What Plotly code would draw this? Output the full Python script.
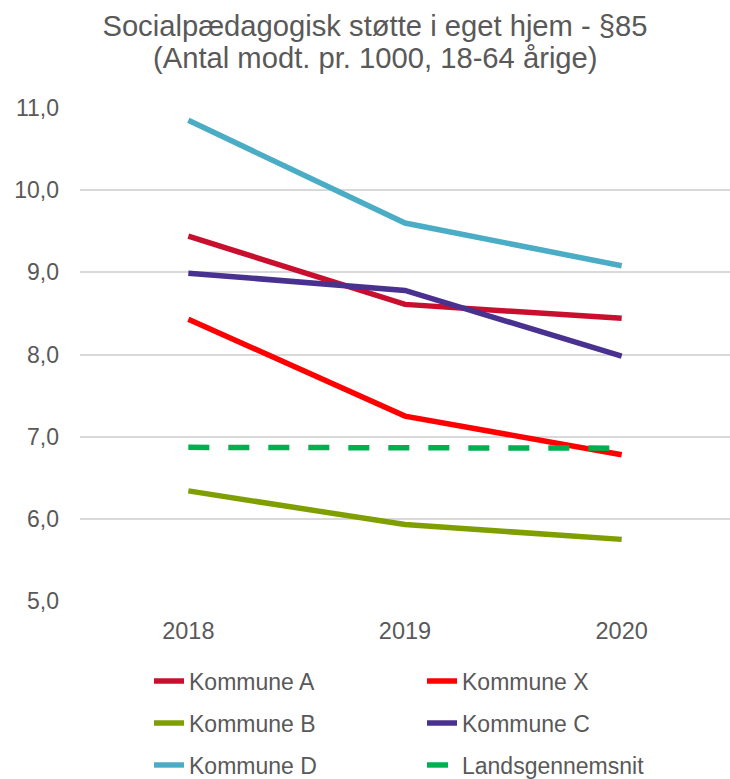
import plotly.graph_objects as go

aar = ["2018", "2019", "2020"]

kommune_a = [9.44, 8.61, 8.44]
kommune_x = [8.43, 7.25, 6.78]
kommune_b = [6.34, 5.93, 5.75]
kommune_c = [8.99, 8.78, 7.98]
kommune_d = [10.85, 9.60, 9.08]
landsgennemsnit = [6.87, 6.86, 6.86]

# (navn, værdier, farve, streg, legende-række)
serier = [
    ("Kommune A", kommune_a, "#C8102E", "solid", "legend"),
    ("Kommune X", kommune_x, "#FF0000", "solid", "legend"),
    ("Kommune B", kommune_b, "#7F9F00", "solid", "legend2"),
    ("Kommune C", kommune_c, "#48318F", "solid", "legend2"),
    ("Kommune D", kommune_d, "#4BACC6", "solid", "legend3"),
    ("Landsgennemsnit", landsgennemsnit, "#00B050", "21px,19px", "legend3"),
]

TXT = "#595959"
FONT = "Liberation Sans, Arial, sans-serif"
W, H = 730, 779

fig = go.Figure()
for navn, vaerdier, farve, streg, lg in serier:
    fig.add_trace(go.Scatter(
        x=aar, y=vaerdier, name=navn, mode="lines", legend=lg,
        line=dict(color=farve, width=5.5, dash=streg),
    ))


def legende(y_px):
    return dict(
        orientation="h", xref="container", yref="container",
        x=149 / W, xanchor="left", y=1 - y_px / H, yanchor="middle",
        entrywidth=228, entrywidthmode="pixels",
        font=dict(family=FONT, size=23, color=TXT),
        bgcolor="rgba(0,0,0,0)",
    )


fig.update_layout(
    width=W, height=H,
    paper_bgcolor="white", plot_bgcolor="white",
    font=dict(family=FONT, color=TXT, size=23),
    separators=",.",
    title=dict(
        text="Socialpædagogisk støtte i eget hjem - §85",
        font=dict(family=FONT, size=29.2, color=TXT),
        xref="container", yref="container",
        x=375 / W, xanchor="center", y=1 - 26 / H, yanchor="middle",
    ),
    annotations=[dict(
        text="(Antal modt. pr. 1000, 18-64 årige)",
        xref="paper", yref="paper", x=(375 - 80) / 650, y=1 + (108 - 58) / 493,
        xanchor="center", yanchor="middle", showarrow=False,
        font=dict(family=FONT, size=29.2, color=TXT),
    )],
    margin=dict(l=80, r=0, t=108, b=178),
    showlegend=True,
    legend=legende(681),
    legend2=legende(723),
    legend3=legende(765),
    xaxis=dict(
        type="category", range=[-0.5, 2.5],
        showgrid=False, showline=False, zeroline=False,
        ticks="", ticklabelstandoff=13, automargin=False,
        tickfont=dict(family=FONT, size=23.5, color=TXT),
    ),
    yaxis=dict(
        range=[5, 11], dtick=1, tickformat=".1f",
        showgrid=True, gridcolor="#D9D9D9", gridwidth=2,
        showline=False, zeroline=False,
        ticks="", ticklabelstandoff=20, automargin=False,
        tickfont=dict(family=FONT, size=23, color=TXT),
    ),
)

# siden skal fylde vinduet uden browserens standardmargen
fig.write_html(
    "out.html",
    config={"displayModeBar": False},
    post_script="document.body.style.margin='0';",
)
